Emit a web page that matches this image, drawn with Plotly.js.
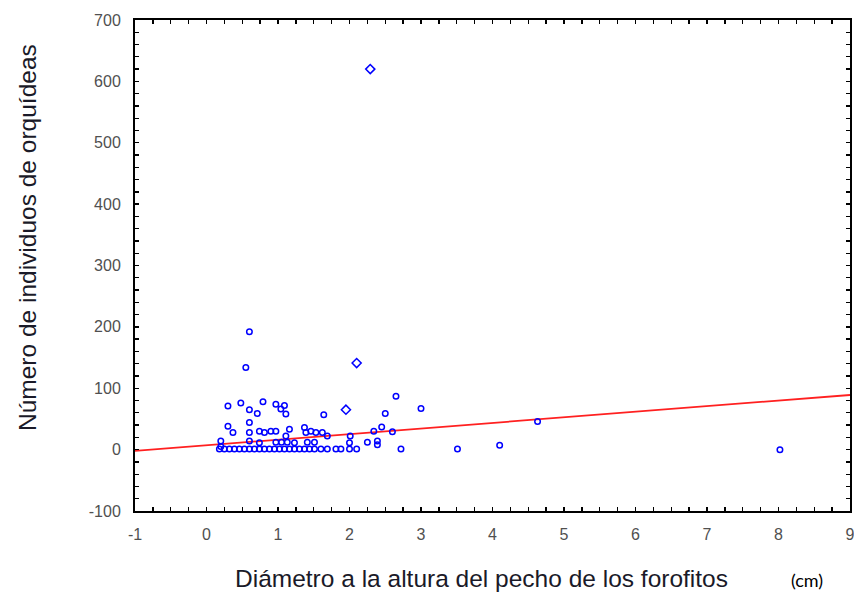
<!DOCTYPE html>
<html>
<head>
<meta charset="utf-8">
<script src="https://cdn.plot.ly/plotly-3.0.1.min.js"></script>
<style>html,body{margin:0;padding:0;background:#fff;overflow:hidden;}#chart{width:854px;height:594px;}</style>
</head>
<body>
<div id="chart"></div>
<script>
// Circle-marker observations (DAP in cm, number of orchid individuals)
var circleX = [0.60,0.55,2.65,3.00,0.30,0.48,0.60,0.71,0.79,0.97,1.09,1.04,1.11,1.64,2.50,2.45,2.34,2.60,2.01,2.00,2.25,2.39,2.39,1.88,2.00,2.10,2.72,3.51,4.10,4.63,8.02,
  0.30,0.37,0.60,0.60,0.74,0.81,0.90,0.97,1.16,1.11,1.37,1.39,1.46,1.53,1.62,1.69,
  0.20,0.60,0.74,0.97,1.05,1.13,1.23,1.41,1.51,0.20,
  0.18,0.25,0.32,0.39,0.46,0.53,0.60,0.67,0.74,0.81,0.88,0.95,1.02,1.09,1.16,1.23,1.30,1.37,1.44,1.51,1.60,1.69,1.81];
var circleY = [192,134,87,67,71,76,65,59,78,74,72,66,58,57,59,37,30,29,22,11,12,14,8,1,1,1,1,1,7,46,0,
  38,28,44,28,30,28,30,30,33,22,36,28,30,28,28,22,
  14,14,11,12,12,12,11,12,12,5,
  1,1,1,1,1,1,1,1,1,1,1,1,1,1,1,1,1,1,1,1,1,1,1];
// Diamond-marker observations
var diamondX = [2.29,2.10,1.95];
var diamondY = [620,141,65];
// Fitted regression line, read at the axis ends
var fitX = [-1, 9];
var fitY = [-2, 89];
// Axis tick labels
var xTickLabels = ['-1','0','1','2','3','4','5','6','7','8','9'];
var yTickLabels = ['-100','0','100','200','300','400','500','600','700'];

var traces = [
  {x: fitX, y: fitY, mode: 'lines', line: {color: '#ff2020', width: 1.8}, hoverinfo: 'skip'},
  {x: circleX, y: circleY, mode: 'markers', marker: {symbol: 'circle-open', size: 5.5, color: '#0000ff', line: {width: 1.5, color: '#0000ff'}}},
  {x: diamondX, y: diamondY, mode: 'markers', marker: {symbol: 'diamond-open', size: 7, color: '#0000ff', line: {width: 1.5, color: '#0000ff'}}}
];

// Major labelled ticks plus unlabelled minor positions
function tickSet(labels, perMajor) {
  var vals = [], text = [];
  for (var i = 0; i < labels.length; i++) {
    var v = Number(labels[i]);
    vals.push(v); text.push(labels[i]);
    if (i < labels.length - 1) {
      var step = (Number(labels[i + 1]) - v) / perMajor;
      for (var k = 1; k < perMajor; k++) { vals.push(v + k * step); text.push(''); }
    }
  }
  return {vals: vals, text: text};
}
var xt = tickSet(xTickLabels, 4);
var yt = tickSet(yTickLabels, 5);

var tickFont = {family: 'Liberation Sans', size: 16, color: '#505050'};
var titleFont = {family: 'Liberation Sans', size: 24.5, color: '#1a1a28'};

function axis(t, extra) {
  return Object.assign({
    showgrid: false, zeroline: false, showline: true, linecolor: '#000', linewidth: 2,
    mirror: 'ticks', ticks: 'inside', ticklen: 4, tickwidth: 1.3, tickcolor: '#000',
    tickmode: 'array', tickvals: t.vals, ticktext: t.text,
    range: [t.vals[0], t.vals[t.vals.length - 1]],
    ticklabeloverflow: 'allow',
    tickfont: tickFont
  }, extra);
}

var layout = {
  width: 854, height: 594,
  margin: {l: 135, r: 4, t: 20, b: 83},
  paper_bgcolor: '#fff', plot_bgcolor: '#fff',
  showlegend: false,
  xaxis: axis(xt, {ticklabelstandoff: 8}),
  yaxis: axis(yt, {ticklabelstandoff: 9}),
  annotations: [
    {text: 'Diámetro a la altura del pecho de los forofitos', xref: 'paper', yref: 'paper',
     x: 0.485, y: -0.137, xanchor: 'center', yanchor: 'middle', showarrow: false, font: titleFont},
    {text: 'Número de individuos de orquídeas', xref: 'paper', yref: 'paper', textangle: -90,
     x: -0.151, y: 0.556, xanchor: 'center', yanchor: 'middle', showarrow: false, font: titleFont},
    {text: '(cm)', xref: 'paper', yref: 'paper', x: 0.94, y: -0.14,
     xanchor: 'center', yanchor: 'middle', showarrow: false,
     font: {family: 'Lato', size: 18, color: '#000'}}
  ]
};

Plotly.newPlot('chart', traces, layout, {displayModeBar: false, staticPlot: true});
</script>
</body>
</html>
